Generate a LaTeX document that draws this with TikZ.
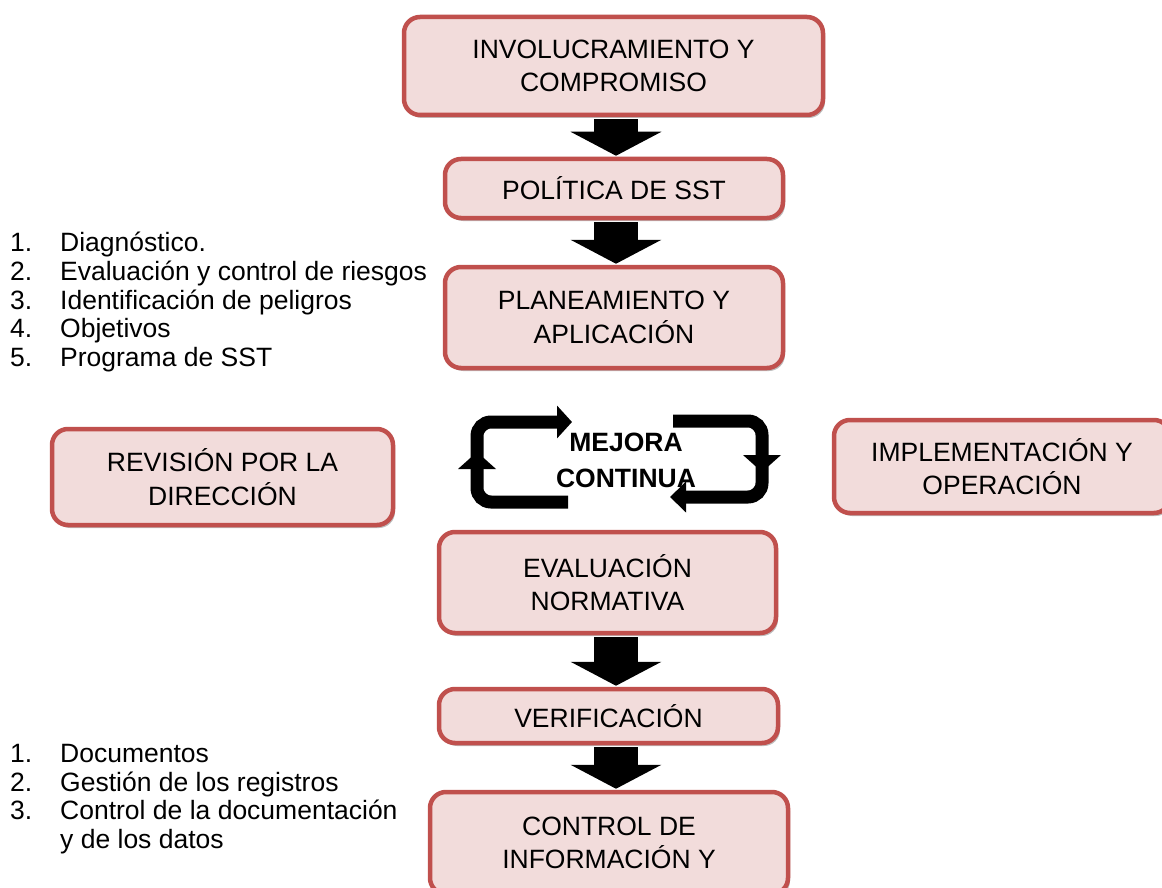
\documentclass[tikz,border=0pt]{standalone}
\usepackage{fontspec}
\setmainfont{Liberation Sans}
\usetikzlibrary{arrows.meta,shadows}
\definecolor{boxfill}{HTML}{F2DCDB}
\definecolor{boxline}{HTML}{C0504D}
\begin{document}
\begin{tikzpicture}[x=1pt,y=-1pt,
 flowbox/.style={draw=boxline, fill=boxfill, line width=4.5pt, rounded corners=16pt,
   align=center, font=\fontsize{26.5}{33.5}\selectfont, inner sep=0pt,
   drop shadow={shadow xshift=2pt,shadow yshift=-3pt,opacity=0.25,fill=black}},
 bigarrow/.style={line width=44pt, -{Triangle[width=90pt,length=24pt]}, black},
 cyc/.style={line width=13pt, rounded corners=14pt, black},
 listtext/.style={align=left, anchor=north west, inner sep=0pt, font=\fontsize{26.5}{28.7}\selectfont}]
\useasboundingbox (0,0) rectangle (1162,888);
\fill[white] (0,0) rectangle (1162,888);
\coordinate (ax) at (616,0);

% boxes
\node[flowbox, minimum width=419pt, minimum height=98pt] (b1) at (613.5,66) {INVOLUCRAMIENTO Y\\COMPROMISO};
\node[flowbox, minimum width=338pt, minimum height=59pt] (b2) at (614,188.5) {POLÍTICA DE SST};
\node[flowbox, minimum width=338pt, minimum height=101pt] (b3) at (614,317.5) {PLANEAMIENTO Y\\APLICACIÓN};
\node[flowbox, minimum width=341pt, minimum height=96pt] (b4) at (222.5,477) {REVISIÓN POR LA\\DIRECCIÓN};
\node[flowbox, minimum width=336pt, minimum height=93pt] (b5) at (1002,466.5) {IMPLEMENTACIÓN Y\\OPERACIÓN};
\node[flowbox, minimum width=337pt, minimum height=101pt] (b6) at (607.5,582.5) {EVALUACIÓN\\NORMATIVA};
\node[flowbox, minimum width=339pt, minimum height=54pt] (b7) at (608.5,716) {VERIFICACIÓN};
\node[flowbox, minimum width=358pt, minimum height=102pt] (b8) at (609,843) {CONTROL DE\\INFORMACIÓN Y};

% big down arrows
\draw[bigarrow] ([yshift=-2pt]b1.south -| ax) -- ([yshift=1pt]b2.north -| ax);
\draw[bigarrow] ([yshift=-2pt]b2.south -| ax) -- ([yshift=1pt]b3.north -| ax);
\draw[bigarrow] ([yshift=-2pt]b6.south -| ax) -- ([yshift=1pt]b7.north -| ax);
\draw[bigarrow] ([yshift=-2pt]b7.south -| ax) -- ([yshift=1pt]b8.north -| ax);

% continuous improvement cycle
\draw[cyc, -{Triangle[width=32pt,length=15pt]}] (568,502) -- (477,502) -- (477,422) -- (572,422);
\fill (458,469) -- (496,469) -- (477,452) -- cycle;
\draw[cyc, -{Triangle[width=30pt,length=16pt]}] (673,421) -- (762,421) -- (762,497) -- (670,497);
\fill (743,455) -- (781,455) -- (762,472) -- cycle;
\node[font=\bfseries\fontsize{26.5}{36}\selectfont, align=center, inner sep=0pt] (mc) at (626,460) {MEJORA\\CONTINUA};

% lists
\node[listtext] (l1) at (10,232) {%
\makebox[50pt][l]{1.}Diagnóstico.\\
\makebox[50pt][l]{2.}Evaluación y control de riesgos\\
\makebox[50pt][l]{3.}Identificación de peligros\\
\makebox[50pt][l]{4.}Objetivos\\
\makebox[50pt][l]{5.}Programa de SST};
\node[listtext] (l2) at (10,744) {%
\makebox[50pt][l]{1.}Documentos\\
\makebox[50pt][l]{2.}Gestión de los registros\\
\makebox[50pt][l]{3.}Control de la documentación\\
\makebox[50pt][l]{}y de los datos};
\end{tikzpicture}
\end{document}
